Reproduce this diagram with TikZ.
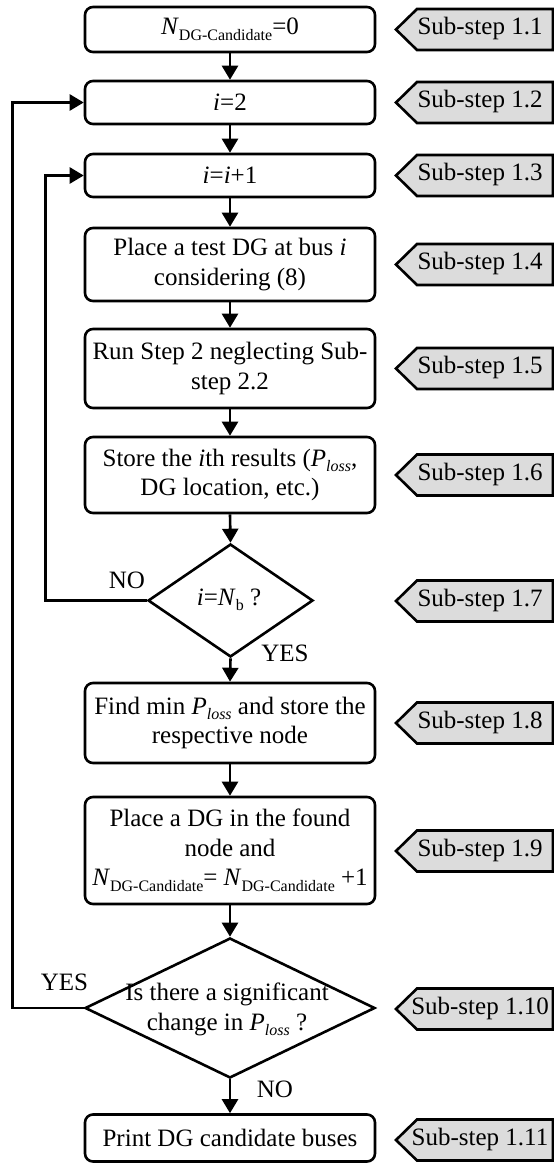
\documentclass[tikz,border=0pt]{standalone}
\usepackage{fontspec}
\setmainfont{Liberation Serif}
\usetikzlibrary{arrows.meta,shapes.geometric}
\definecolor{tagfill}{HTML}{DCDCDC}
\newcommand\mysub[1]{\raisebox{-0.22em}{\fontsize{16}{16}\selectfont #1}}
\newcommand\NDG{\textit{N}\mysub{DG-Candidate}}
\newcommand\Ploss{\textit{P}\mysub{\textit{loss}}}
\begin{document}
\begin{tikzpicture}[x=1pt,y=-1pt,
  every node/.style={font=\fontsize{25}{29.5}\selectfont},
  box/.style={draw, line width=2.6pt, rounded corners=8pt, minimum width=290pt, align=center, inner sep=0pt},
  dia/.style={draw, diamond, line width=2.6pt, inner sep=0pt},
  flow/.style={line width=2.6pt, -{Triangle[width=16pt,length=14pt]}},
  tagshape/.style={draw, line width=2.6pt, fill=tagfill, line join=miter},
  lab/.style={inner sep=0pt, align=center}
]
\useasboundingbox (0,0) rectangle (554,1163);

% boxes
\node[box, minimum height=45pt] (b1) at (230,29.5) {\NDG=0};
\node[box, minimum height=43pt] (b2) at (230,102.5) {\textit{i}=2};
\node[box, minimum height=43pt] (b3) at (230,175.5) {\textit{i}=\textit{i}+1};
\node[box, minimum height=73pt] (b4) at (230,264.5) {Place a test DG at bus \textit{i}\\considering (8)};
\node[box, minimum height=79pt] (b5) at (230,368.5) {Run Step 2 neglecting Sub-\\step 2.2};
\node[box, minimum height=76pt] (b6) at (230,475) {Store the \textit{i}th results (\Ploss,\\DG location, etc.)};
\node[dia, minimum width=165pt, minimum height=113pt] (d1) at (230.5,600.5) {};
\node[lab] (d1t) at (229,600) {\textit{i}=\textit{N}\mysub{b} ?};
\node[box, minimum height=80pt] (b7) at (230,723) {Find min \Ploss{} and store the\\respective node};
\node[box, minimum height=107pt] (b8) at (230,850.5) {Place a DG in the found\\node and\\\NDG= \NDG{} +1};
\node[dia, minimum width=290pt, minimum height=140pt] (d2) at (230,1008) {};
\node[lab] (d2t) at (227,1009.5) {Is there a significant\\change in \Ploss{} ?};
\node[box, minimum height=47pt] (b9) at (230,1138) {Print DG candidate buses};

% labels
\node[lab] (no1) at (127,580) {NO};
\node[lab] (yes1) at (285,653) {YES};
\node[lab] (yes2) at (64.5,982) {YES};
\node[lab] (no2) at (275,1089) {NO};

% connectors
\draw[flow] (b1.south) -- (b2.north);
\draw[flow] (b2.south) -- (b3.north);
\draw[flow] (b3.south) -- (b4.north);
\draw[flow] (b4.south) -- (b5.north);
\draw[flow] (b5.south) -- (b6.north);
\draw[flow] (b6.south) -- (d1.north);
\draw[flow] (d1.south) -- (b7.north);
\draw[flow] (b7.south) -- (b8.north);
\draw[flow] (b8.south) -- (d2.north);
\draw[flow] (d2.south) -- (b9.north);
\coordinate (oL) at (12.3,0);
\coordinate (iL) at (45.7,0);
\draw[flow] (d2.west) -- (oL |- d2.west) |- (b2.west);
\draw[flow] (d1.west) -- (iL |- d1.west) |- (b3.west);

% sub-step tags
\foreach \y/\t [count=\k] in {29.5/1.1, 102.5/1.2, 175.5/1.3, 264.5/1.4, 368.5/1.5, 475/1.6, 601/1.7, 723/1.8, 851/1.9, 1009/1.10, 1140/1.11} {
  \draw[tagshape] (396,\y) -- (417,{\y-20.5}) -- (553,{\y-20.5}) -- (553,{\y+20.5}) -- (417,{\y+20.5}) -- cycle;
  \node[lab] (t\k) at (480,{\y-1}) {Sub-step \t};
}
\end{tikzpicture}
\end{document}
